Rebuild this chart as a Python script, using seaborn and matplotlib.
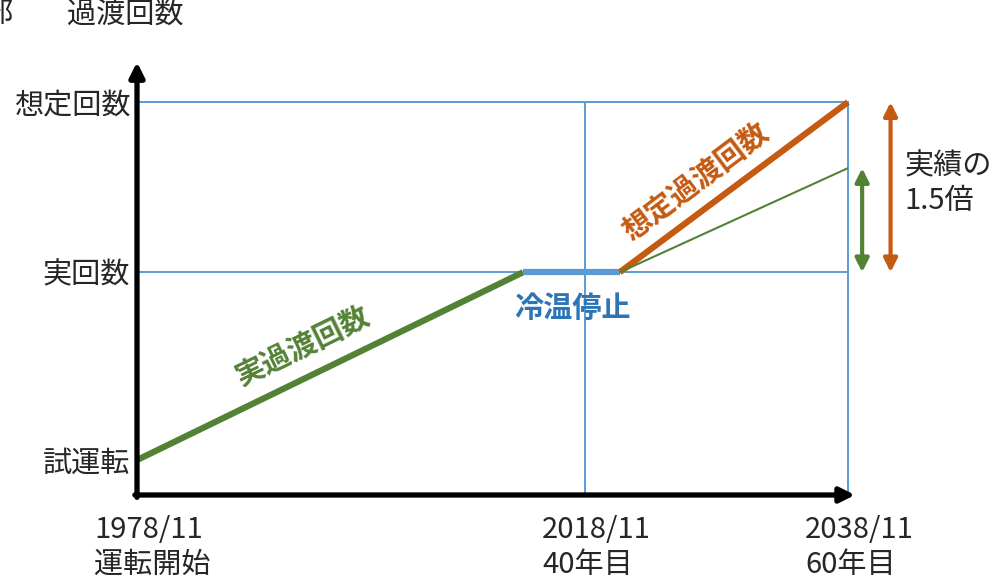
import matplotlib
matplotlib.use("Agg")
import matplotlib.pyplot as plt
import seaborn as sns
import pandas as pd

# schematic axes: x = progress (2038/11 = 100), y = transient count (想定回数 = 100)
x_start = 0.0        # 1978/11 運転開始
x_cold_begin = 54.3  # 冷温停止 start
x_2018 = 63.0        # 2018/11 40年目
x_restart = 67.9     # 冷温停止 end
x_2038 = 100.0       # 2038/11 60年目

y_trial = 8.9        # 試運転
y_actual = 56.7      # 実回数
y_design = 100.0     # 想定回数
y_trend = 83.2       # 実績トレンド延長

ytick_pos = [y_trial, y_actual, y_design]
ytick_labels = ["試運転", "実回数", "想定回数"]
xtick_pos = [x_start, x_2018, x_2038]
xtick_labels = ["1978/11\n運転開始", "2018/11\n40年目", "2038/11\n60年目"]

GREEN = "#548235"
ORANGE = "#C55A11"
BLUE = "#5B9BD5"
BLUE_TXT = "#2E75B6"
FS = 21

sns.set_theme(style="white")
plt.rcParams["font.family"] = ["Noto Sans CJK JP", "DejaVu Sans"]

fig = plt.figure(figsize=(10.08, 5.79), dpi=100)
ax = fig.add_axes([137 / 1008, 84 / 579, 723 / 1008, 440 / 579])
ax.set_xlim(0, 101.7)
ax.set_ylim(0, 112)

# reference grid lines
for yv in [y_design, y_actual]:
    ax.plot([x_start, x_2038], [yv, yv], color=BLUE, lw=1.4, zorder=1)
for xv in [x_2018, x_2038]:
    ax.plot([xv, xv], [0, y_design], color=BLUE, lw=1.4, zorder=1)

segments = pd.DataFrame({
    "x": [x_start, x_cold_begin, x_cold_begin, x_restart, x_restart, x_2038, x_restart, x_2038],
    "y": [y_trial, y_actual, y_actual, y_actual, y_actual, y_design, y_actual, y_trend],
    "seg": ["actual", "actual", "cold", "cold", "design", "design", "trend", "trend"],
})
styles = {"actual": (GREEN, 4.5), "cold": (BLUE, 4.5), "design": (ORANGE, 4.5), "trend": (GREEN, 1.5)}
for name, (col, lw) in styles.items():
    d = segments[segments["seg"] == name]
    sns.lineplot(data=d, x="x", y="y", color=col, linewidth=lw, sort=False,
                 estimator=None, ax=ax, zorder=3, solid_capstyle="butt")

# axis arrows
ax.annotate("", xy=(101.0, 0), xytext=(-0.3, 0),
            arrowprops=dict(arrowstyle="-|>", color="black", lw=3.8, mutation_scale=22,
                            shrinkA=0, shrinkB=0), annotation_clip=False, zorder=4)
ax.annotate("", xy=(0, 110.2), xytext=(0, -0.6),
            arrowprops=dict(arrowstyle="-|>", color="black", lw=3.8, mutation_scale=22,
                            shrinkA=0, shrinkB=0), annotation_clip=False, zorder=4)

# double arrows on the right
ax.annotate("", xy=(102.0, y_trend), xytext=(102.0, y_actual),
            arrowprops=dict(arrowstyle="<|-|>", color=GREEN, lw=3, mutation_scale=20,
                            shrinkA=0, shrinkB=0), annotation_clip=False)
ax.annotate("", xy=(106.0, y_design), xytext=(106.0, y_actual),
            arrowprops=dict(arrowstyle="<|-|>", color=ORANGE, lw=3, mutation_scale=20,
                            shrinkA=0, shrinkB=0), annotation_clip=False)

for s in ax.spines.values():
    s.set_visible(False)
ax.set_xlabel("")
ax.set_ylabel("")
ax.set_xticks([])
ax.set_yticks(ytick_pos)
ax.set_yticklabels(ytick_labels, fontsize=FS)
ax.tick_params(axis="y", length=0, pad=5)

for xv, lab in zip(xtick_pos, xtick_labels):
    ax.annotate(lab, xy=(xv, 0), xytext=(-43, -20), textcoords="offset pixels",
                ha="left", va="top", fontsize=FS, linespacing=1.22, annotation_clip=False)

ax.text(-1.7, 122, "過渡回数", ha="center", va="center", fontsize=FS, clip_on=False)
fig.text(13 / 1008, 1 - 14 / 579, "部", ha="right", va="center", fontsize=FS)

ax.text(23.3, 37.9, "実過渡回数", color=GREEN, fontsize=FS, fontweight="bold",
        rotation=26, ha="center", va="center", rotation_mode="anchor")
ax.text(61.2, 47.6, "冷温停止", color=BLUE_TXT, fontsize=FS, fontweight="bold",
        ha="center", va="center")
ax.text(78.6, 79.6, "想定過渡回数", color=ORANGE, fontsize=FS, fontweight="bold",
        rotation=37, ha="center", va="center", rotation_mode="anchor")
ax.text(108.0, 79.3, "実績の\n1.5倍", fontsize=FS, ha="left", va="center",
        linespacing=1.2, clip_on=False)

fig.savefig("out.png", dpi=100)
